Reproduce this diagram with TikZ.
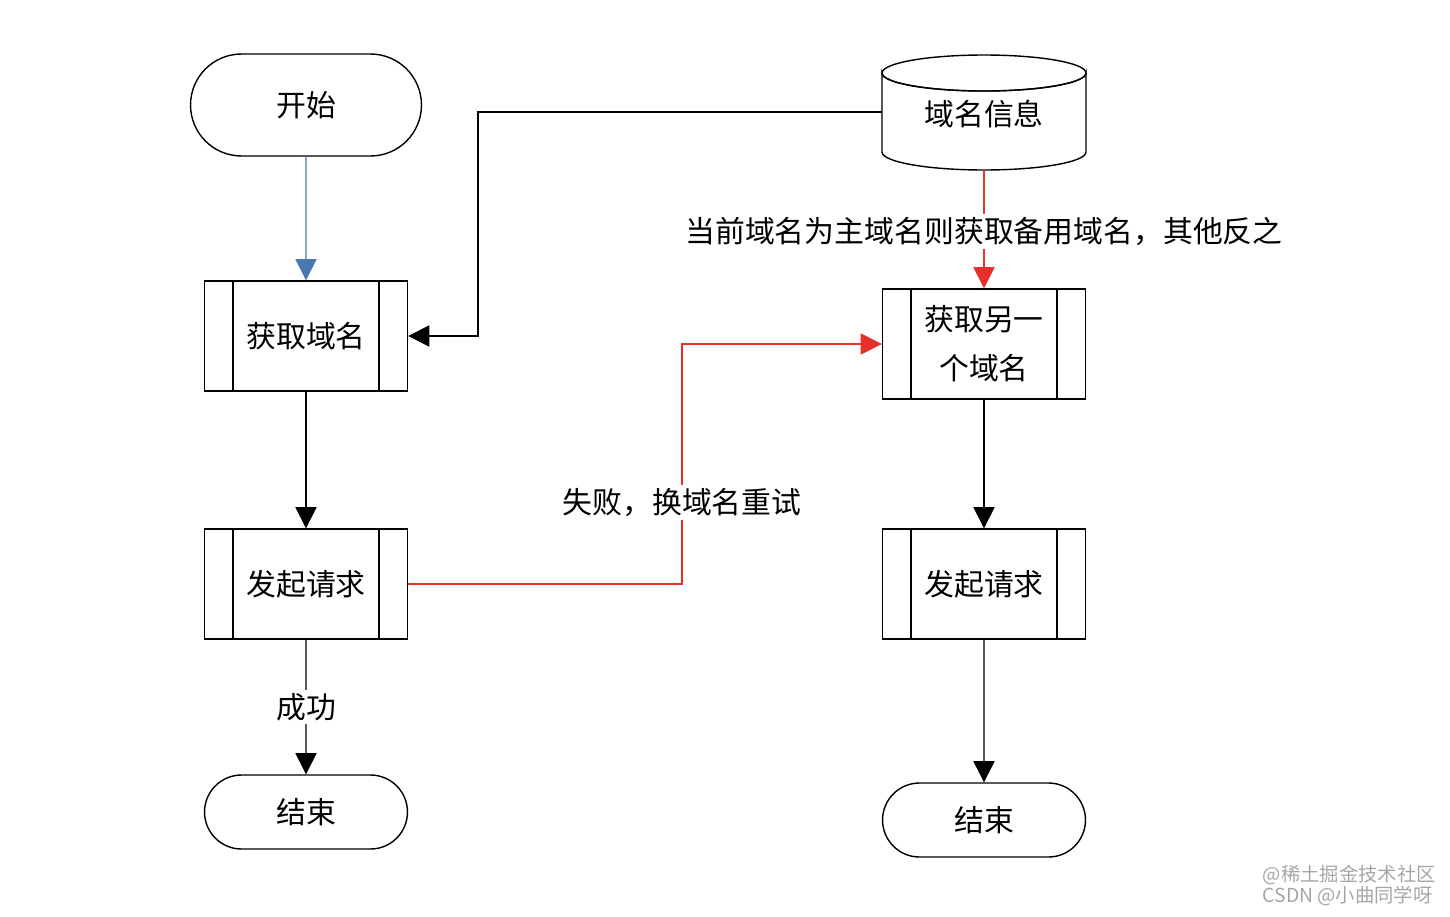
\documentclass[tikz,border=0pt]{standalone}
\usepackage{fontspec}
\newfontfamily\cjk{Noto Sans CJK SC}
\usetikzlibrary{arrows.meta,shapes.misc}
\definecolor{fblue}{HTML}{4A78B0}
\definecolor{fred}{HTML}{E8302A}
\begin{document}
\begin{tikzpicture}[x=0.02cm,y=-0.02cm,
  txt/.style={font=\cjk\fontsize{17}{24}\selectfont},
  term/.style={txt,draw,thick,rounded rectangle,minimum width=4.06cm,minimum height=1.48cm,inner sep=0pt},
  proc/.style={txt,draw,thick,rectangle,minimum width=4.06cm,minimum height=2.2cm,inner sep=0pt,align=center},
  arr/.style={thick,-{Triangle[length=12pt,width=12pt]}},
  lbl/.style={txt,text=black,fill=white,inner sep=2pt}]
\useasboundingbox (0,0) rectangle (1450,916);
\node[term,minimum width=4.62cm,minimum height=2.04cm] (start) at (306,105) {开始};
\node[proc] (get) at (306,336) {获取域名};
\node[proc] (req1) at (306,584) {发起请求};
\node[term] (end1) at (306,812) {结束};
\node[proc,align=center] (get2) at (984,344) {获取另一\\[4pt]个域名};
\node[proc] (req2) at (984,584) {发起请求};
\node[term] (end2) at (984,820) {结束};
\foreach \n in {get,req1,get2,req2}{
  \draw[thick] ([xshift=0.58cm]\n.north west) -- ([xshift=0.58cm]\n.south west);
  \draw[thick] ([xshift=-0.58cm]\n.north east) -- ([xshift=-0.58cm]\n.south east);
}
% cylinder
\node[txt,minimum width=4.08cm,minimum height=2.3cm,inner sep=0pt] (db) at (984,112) {};
\draw[thick,fill=white] (882,73) arc[start angle=180,end angle=360,x radius=102,y radius=-18]
  -- (1086,152) arc[start angle=0,end angle=-180,x radius=102,y radius=-18] -- cycle;
\draw[thick] (984,73) ellipse[x radius=102,y radius=-18];
\node[txt] at (984,114) {域名信息};
% connectors
\draw[arr,fblue,-{Triangle[length=12pt,width=12pt,open,fill=fblue]}] (start) -- (get);
\coordinate (c1) at (478,112);
\coordinate (c2) at (478,336);
\draw[arr] (db.west) -- (c1) -- (c2) -- (get.east);
\draw[arr,fred] (984,170) -- node[lbl,pos=0.52]{当前域名为主域名则获取备用域名，其他反之} (get2.north);
\draw[arr] (get) -- (req1);
\coordinate (d1) at (682,584);
\coordinate (d2) at (682,344);
\draw[arr,fred] (req1.east) -- (d1) -- node[lbl,pos=0.34]{失败，换域名重试} (d2) -- (get2.west);
\draw[arr] (req1) -- node[lbl,pos=0.5]{成功} (end1);
\draw[arr] (get2) -- (req2);
\draw[arr] (req2) -- (end2);
\node[font=\cjk\fontsize{11}{12}\selectfont,text=gray!70,align=left,anchor=south east,inner sep=0pt] (wm) at (1436,906) {@稀土掘金技术社区\\CSDN @小曲同学呀};
\end{tikzpicture}
\end{document}
